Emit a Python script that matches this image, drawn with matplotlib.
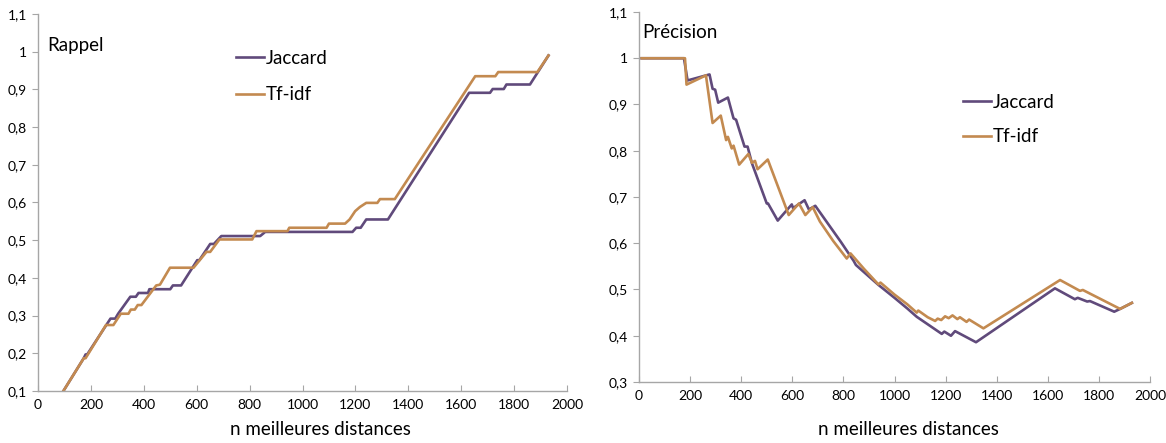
import matplotlib
matplotlib.use("Agg")
import matplotlib.pyplot as plt
from matplotlib.ticker import FuncFormatter, MultipleLocator

plt.rcParams['font.family'] = ['Lato', 'DejaVu Sans']

# ---- Rappel (recall) data ----
rap_jac_x = [96, 173, 180, 186, 274, 292, 303, 349, 370, 380, 416, 421, 500, 510, 541,
             602, 610, 651, 665, 693, 840, 859, 1189, 1203, 1220, 1241, 1323,
             1630, 1709, 1719, 1761, 1771, 1860, 1930]
rap_jac_y = [0.10, 0.187, 0.197, 0.197, 0.292, 0.292, 0.305, 0.350, 0.350, 0.360, 0.360, 0.370, 0.370, 0.380, 0.380,
             0.447, 0.447, 0.490, 0.490, 0.511, 0.511, 0.522, 0.522, 0.533, 0.533, 0.555, 0.555,
             0.891, 0.891, 0.901, 0.901, 0.913, 0.913, 0.990]
rap_tf_x = [96, 173, 180, 257, 285, 313, 342, 351, 366, 377, 391, 447, 461, 499, 588,
            637, 651, 686, 810, 826, 943, 950, 1091, 1100, 1161, 1178, 1199, 1217,
            1241, 1283, 1293, 1349, 1653, 1729, 1740, 1888, 1930]
rap_tf_y = [0.10, 0.187, 0.187, 0.275, 0.275, 0.305, 0.305, 0.316, 0.316, 0.328, 0.328, 0.380, 0.382, 0.427, 0.427,
            0.469, 0.469, 0.502, 0.502, 0.524, 0.524, 0.533, 0.533, 0.544, 0.544, 0.555, 0.577, 0.588,
            0.599, 0.599, 0.609, 0.609, 0.935, 0.935, 0.946, 0.946, 0.990]

# ---- Précision data ----
pre_jac_x = [10, 176, 190, 276, 288, 298, 310, 348, 370, 380, 413, 425, 442, 500, 505,
             543, 598, 603, 648, 665, 690, 740, 790, 840, 849, 900, 937, 1000, 1050, 1087,
             1140, 1185, 1195, 1221, 1237, 1319, 1628, 1706, 1717, 1754, 1765, 1860, 1883, 1929]
pre_jac_y = [1.0, 1.0, 0.952, 0.965, 0.934, 0.932, 0.904, 0.915, 0.870, 0.867, 0.809, 0.809, 0.773, 0.686, 0.686,
             0.649, 0.684, 0.676, 0.693, 0.673, 0.681, 0.642, 0.603, 0.562, 0.553, 0.528, 0.510, 0.482, 0.459, 0.441,
             0.421, 0.404, 0.409, 0.400, 0.410, 0.386, 0.5025, 0.479, 0.482, 0.474, 0.475, 0.452, 0.458, 0.471]
pre_tf_x = [10, 180, 186, 262, 288, 320, 341, 348, 363, 370, 392, 428, 442, 454, 464, 504,
            586, 626, 651, 680, 708, 760, 813, 828, 880, 937, 945, 1000, 1050, 1087, 1093,
            1130, 1159, 1169, 1183, 1198, 1212, 1227, 1246, 1256, 1282, 1292, 1348,
            1648, 1726, 1737, 1883, 1929]
pre_tf_y = [1.0, 1.0, 0.943, 0.963, 0.860, 0.876, 0.823, 0.830, 0.805, 0.811, 0.770, 0.793, 0.774, 0.778, 0.760, 0.781,
            0.661, 0.686, 0.661, 0.678, 0.647, 0.605, 0.567, 0.578, 0.545, 0.511, 0.515, 0.489, 0.468, 0.450, 0.4545,
            0.440, 0.432, 0.437, 0.434, 0.442, 0.438, 0.444, 0.436, 0.440, 0.430, 0.435, 0.416,
            0.5205, 0.497, 0.499, 0.458, 0.471]

PURPLE = '#604A7B'
ORANGE = '#C38A50'
AXIS_GRAY = '#A6A6A6'

fig = plt.figure(figsize=(11.66, 4.43), dpi=100)

def comma(v, pos):
    s = ('%.1f' % v).replace('.', ',')
    if s.endswith(',0'):
        s = s[:-2]
    return s

def style(ax, ymin, ymax):
    ax.set_xlim(0, 2000)
    ax.set_ylim(ymin, ymax)
    ax.xaxis.set_major_locator(MultipleLocator(200))
    ax.yaxis.set_major_locator(MultipleLocator(0.1))
    ax.yaxis.set_major_formatter(FuncFormatter(comma))
    for s in ['top', 'right']:
        ax.spines[s].set_visible(False)
    for s in ['left', 'bottom']:
        ax.spines[s].set_color(AXIS_GRAY)
        ax.spines[s].set_linewidth(1.0)
    ax.tick_params(axis='y', direction='out', length=4, color=AXIS_GRAY, labelsize=10, pad=4)
    ax.tick_params(axis='x', direction='in', length=4, color=AXIS_GRAY, labelsize=10, pad=6)
    ax.set_xlabel('n meilleures distances', fontsize=13.5)

W, H = 1166.0, 443.0
ax1 = fig.add_axes([38 / W, 1 - 391 / H, (567 - 38) / W, (391 - 14) / H])
style(ax1, 0.1, 1.1)
ax1.plot(rap_jac_x, rap_jac_y, color=PURPLE, lw=1.9, label='Jaccard')
ax1.plot(rap_tf_x, rap_tf_y, color=ORANGE, lw=1.9, label='Tf-idf')
ax1.text(47 / W, 1 - 45 / H, 'Rappel', transform=fig.transFigure, fontsize=13.5, va='center', ha='left')
ax1.legend(loc='upper left', bbox_to_anchor=((228 - 38) / (567 - 38), 1 - (42 - 14) / (391 - 14)),
           frameon=False, fontsize=13.5, handlelength=1.5, handletextpad=0.1, labelspacing=1.05,
           borderaxespad=0)
ax1.xaxis.set_label_coords(0.534, -0.08)

ax2 = fig.add_axes([639 / W, 1 - 382 / H, (1150 - 639) / W, (382 - 12) / H])
style(ax2, 0.3, 1.1)
ax2.plot(pre_jac_x, pre_jac_y, color=PURPLE, lw=1.9, label='Jaccard')
ax2.plot(pre_tf_x, pre_tf_y, color=ORANGE, lw=1.9, label='Tf-idf')
ax2.text(642 / W, 1 - 32 / H, 'Précision', transform=fig.transFigure, fontsize=13.5, va='center', ha='left')
ax2.legend(loc='upper left', bbox_to_anchor=((955 - 639) / (1150 - 639), 1 - (86 - 12) / (382 - 12)),
           frameon=False, fontsize=13.5, handlelength=1.5, handletextpad=0.1, labelspacing=0.95,
           borderaxespad=0)
ax2.xaxis.set_label_coords(0.527, -0.105)

fig.savefig('out.png', dpi=100)
